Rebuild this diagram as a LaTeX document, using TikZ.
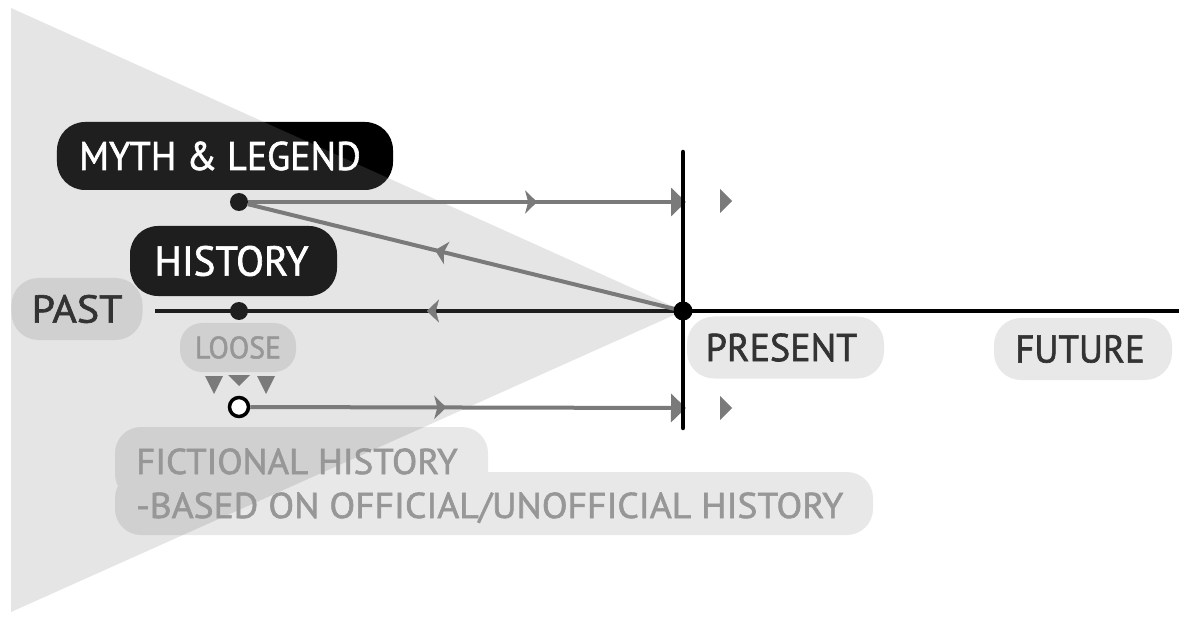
\documentclass[tikz,border=0pt]{standalone}
\usepackage{fontspec}
\setmainfont{PT Sans}[FakeBold=1.6]
\usetikzlibrary{arrows.meta,decorations.markings}
\definecolor{tri}{HTML}{E5E5E5}
\definecolor{gline}{HTML}{7A7A7A}
\definecolor{dk}{HTML}{1E1E1E}
\definecolor{txtdark}{HTML}{333333}
\definecolor{txtlight}{HTML}{979797}
\newcommand{\sx}[2]{\scalebox{#1}[1]{#2}}
\begin{document}
\begin{tikzpicture}[x=1bp,y=-1bp,
  darkbox/.style={fill=black, text=white, rounded corners=28bp, inner sep=0pt, minimum height=68bp,
    font=\fontsize{40}{48}\selectfont},
  lightbox/.style={fill=black, fill opacity=0.09, text opacity=1, rounded corners=27bp, inner sep=0pt,
    minimum height=62bp, text=txtdark, font=\fontsize{39}{46}\selectfont},
  fictext/.style={anchor=base west, inner sep=0pt, text=txtlight, font=\fontsize{36}{43}\selectfont},
  dot/.style={circle, fill=dk, inner sep=0pt, minimum size=18bp},
  glinestyle/.style={draw=gline, line width=4bp},
  endtip/.style={-{Triangle[length=15bp,width=28bp]}},
  midarrow/.style={postaction={decorate}, decoration={markings,
     mark=at position #1 with {\arrow[gline]{Stealth[length=12bp,width=23bp,inset=3bp]}}}},
  freetri/.style={fill=gline}
]
\useasboundingbox (0,0) rectangle (1179,617);
\fill[white] (0,0) rectangle (1179,617);
% cone
\fill[tri] (11,8) -- (683,311) -- (11,612) -- cycle;

% light boxes
\node[lightbox, minimum width=131bp] (past) at (77,309) {\sx{1.08}{PAST}};
\node[lightbox, minimum width=197bp] (present) at (785.5,347.5) {\sx{0.98}{PRESENT}\hspace*{8bp}};
\node[lightbox, minimum width=178bp] (future) at (1083,349) {\sx{0.95}{FUTURE}\hspace*{6bp}};
\node[lightbox, minimum width=116bp, minimum height=49bp, rounded corners=22bp, text=txtlight,
      font=\fontsize{31}{37}\selectfont] (loose) at (238,347.5) {\sx{0.965}{LOOSE}};
\fill[black, fill opacity=0.09, rounded corners=26bp] (115,427) rectangle (488,500) (115,472) rectangle (873,535);
\node[fictext] (fic1) at (136,474) {\sx{1.03}{FICTIONAL HISTORY}};
\node[fictext] (fic2) at (136,518) {\sx{1.048}{-BASED ON OFFICIAL/UNOFFICIAL HISTORY}};

% dark boxes
\node[darkbox, minimum width=336bp] (myth) at (225,156) {\sx{0.95}{MYTH \& LEGEND}\hspace*{10bp}};
\begin{scope}
  \clip (11,8) -- (683,311) -- (11,612) -- cycle;
  \fill[white, fill opacity=0.12, rounded corners=28bp] (myth.north west) rectangle (myth.south east);
\end{scope}
\node[darkbox, fill=dk, minimum width=207bp, minimum height=70bp, font=\fontsize{42}{50}\selectfont] (hist) at (233.5,261) {\sx{0.975}{HISTORY}\hspace*{4bp}};

% timeline
\coordinate (apex) at (683,311);
\coordinate (pastend) at (155,311);
\coordinate (futend) at (1179,311);
\coordinate (vtop) at (683,152);
\coordinate (vbot) at (683,428);
\coordinate (mythend) at (686,202);
\coordinate (ficend) at (686,408);

\draw[line width=4bp, draw=dk] (pastend) -- (apex);
\draw[line width=4bp, draw=black] (apex) -- (futend);

% dots
\node[dot] (mythdot) at (239,202) {};
\node[dot] (pastdot) at (239,311) {};
\node[circle, draw=black, fill=white, line width=3.5bp, inner sep=0pt, minimum size=19bp] (ficdot) at (239,407) {};

% gray connectors
\draw[glinestyle, endtip, midarrow=0.66] (mythdot) -- (mythend);
\draw[glinestyle, midarrow=0.57] (apex) -- (mythdot);
\path[midarrow=0.485] (apex) -- (pastend);
\draw[glinestyle, endtip, midarrow=0.45] (ficdot) -- (ficend);

% vertical present line
\draw[line width=4.5bp, line cap=round] (vtop) -- (vbot);
\node[circle, fill=black, inner sep=0pt, minimum size=19bp] (apexdot) at (apex) {};

% free triangles
\fill[freetri] (720,189) -- (732,201) -- (720,213) -- cycle;
\fill[freetri] (720,396) -- (732,408) -- (720,420) -- cycle;

% loose triangles
\fill[gline] (205,376) -- (223,376) -- (214,394) -- cycle;
\fill[gline] (228,375) -- (250,375) -- (239,386) -- cycle;
\fill[gline] (257,376) -- (275,376) -- (266,394) -- cycle;
\end{tikzpicture}
\end{document}
